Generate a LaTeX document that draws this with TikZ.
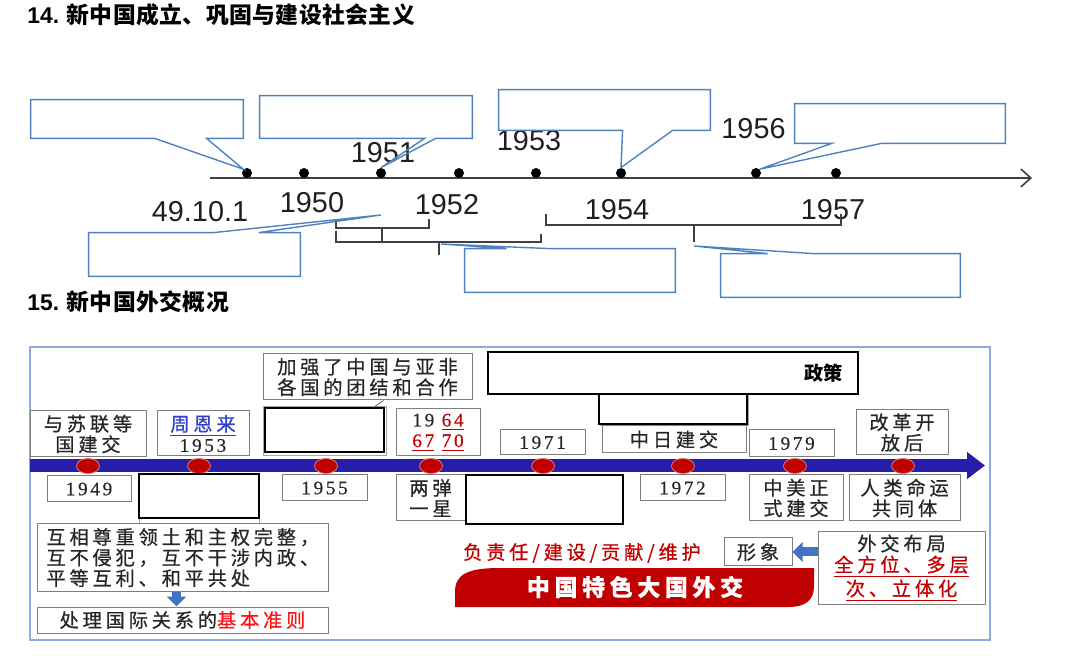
\documentclass[tikz,border=0pt]{standalone}
\usepackage{fontspec}
\setmainfont{Noto Sans CJK SC}
\newfontfamily\cjk[LetterSpace=20,FakeBold=0.6]{Noto Sans CJK SC}
\newfontfamily\cjkt[LetterSpace=2]{Noto Sans CJK SC}
\newfontfamily\arialnum{Liberation Sans}
\newfontfamily\numf[LetterSpace=14,FakeBold=0.5]{Liberation Serif}
\usetikzlibrary{arrows.meta,shapes.geometric,calc}

\definecolor{calloutblue}{RGB}{79,129,189}
\definecolor{axisgray}{RGB}{64,64,64}
\definecolor{frameblue}{RGB}{143,170,220}
\definecolor{barblue}{RGB}{38,30,170}
\definecolor{dotred}{RGB}{192,0,0}
\definecolor{brightred}{RGB}{250,20,20}
\definecolor{linkblue}{RGB}{48,64,200}
\definecolor{arrowblue}{RGB}{68,114,196}
\definecolor{boxgray}{RGB}{127,127,127}

\begin{document}
\begin{tikzpicture}[x=0.5pt, y=-0.5pt,
	title/.style={anchor=west, inner sep=0, font=\cjkt\bfseries\fontsize{11.4pt}{12pt}\selectfont},
	year/.style={inner sep=0, text=black!88, font=\arialnum\fontsize{14.4pt}{15pt}\selectfont},
	tdot/.style={circle, fill=black, inner sep=0, minimum size=5pt},
	cbox/.style={inner sep=0},
	wh/.style 2 args={minimum width=#1, minimum height=#2},
	callout/.style={draw=calloutblue, line width=0.7pt},
	bracket/.style={draw=axisgray, line width=0.7pt},
	axisline/.style={draw=axisgray, line width=0.8pt, -{Straight Barb[length=5pt,width=9pt]}},
	rdot/.style={ellipse, fill=dotred, draw=dotred!55!white, line width=0.4pt, inner sep=0, minimum width=11.5pt, minimum height=7.5pt},
	tbox/.style={draw=boxgray, line width=0.5pt, fill=white, inner sep=0, align=center, text=black!85, font=\cjk\fontsize{9.6pt}{10.3pt}\selectfont},
	blank/.style={draw=black, line width=0.8pt, fill=white, inner sep=0},
	shadowbox/.style={draw=black!35, line width=0.5pt, fill=white, inner sep=0},
	fatarrow/.style={draw=arrowblue, line width=4.5pt, -{Triangle[width=9.5pt,length=5pt]}},
	timebar/.style={draw=barblue, line width=6.5pt, -{Triangle[width=13pt,length=9pt]}},
]
\useasboundingbox (0,0) rectangle (1080,672);

% 14: timeline
\node[title] (t14) at (27,15) {{\arialnum 14.} 新中国成立、巩固与建设社会主义};

\coordinate (axL) at (210,178);
\coordinate (axR) at (1032,178);
\draw[axisline] (axL) -- (axR);

\foreach \n/\x in {1/247,2/304,3/381,4/459,5/536,6/621,7/756,8/836}
	\node[tdot] (d\n) at (\x,173) {};

\node[year] (y49) at (200,211.5) {49.10.1};
\node[year] (y50) at (312,203) {1950};
\node[year] (y51) at (383,153) {1951};
\node[year] (y52) at (447,205) {1952};
\node[year] (y53) at (529,140.5) {1953};
\node[year] (y54) at (617,210) {1954};
\node[year] (y56) at (753.5,128.5) {1956};
\node[year] (y57) at (833,210) {1957};

% brackets
\draw[bracket] (336,219) -- (336,228) -- (429,228) -- (429,219) (382,228) -- (382,241);
\draw[bracket] (336,231) -- (336,242) -- (541,242) -- (541,234) (439,242) -- (439,255);
\draw[bracket] (546,214) -- (546,225) -- (841,225) -- (841,214) (694,225) -- (694,242);
\coordinate (pC) at (381,215);
\coordinate (pD) at (441,244);
\coordinate (pG) at (694,246);

% callouts
\node[cbox, wh={106pt}{19pt}] (cA) at (137,119) {};
\node[cbox, wh={106pt}{21pt}] (cB) at (366,117) {};
\node[cbox, wh={105.5pt}{20pt}] (cE) at (604.5,110) {};
\node[cbox, wh={105pt}{19.5pt}] (cF) at (900,123.5) {};
\node[cbox, wh={105.5pt}{21.5pt}] (cC) at (194.5,254.5) {};
\node[cbox, wh={105pt}{21.5pt}] (cD) at (570,270.5) {};
\node[cbox, wh={119.5pt}{21.5pt}] (cG) at (840.5,275.5) {};

\draw[callout] (cA.south west) -- (cA.north west) -- (cA.north east) -- (cA.south east) -- ([xshift=88pt]cA.south west) -- (d1.north west) -- ([xshift=62pt]cA.south west) -- cycle;
\draw[callout] (cB.south west) -- (cB.north west) -- (cB.north east) -- (cB.south east) -- ([xshift=88pt]cB.south west) -- (d3.north) -- ([xshift=82.5pt]cB.south west) -- cycle;
\draw[callout] (cE.south west) -- (cE.north west) -- (cE.north east) -- (cE.south east) -- ([xshift=87pt]cE.south west) -- (d6.north) -- ([xshift=62pt]cE.south west) -- cycle;
\draw[callout] (cF.south west) -- (cF.north west) -- (cF.north east) -- (cF.south east) -- ([xshift=43.5pt]cF.south west) -- (d7.north east) -- ([xshift=18.5pt]cF.south west) -- cycle;
\draw[callout] (cC.north west) -- ([xshift=62.5pt]cC.north west) -- (pC) -- ([xshift=85pt]cC.north west) -- (cC.north east) -- (cC.south east) -- (cC.south west) -- cycle;
\draw[callout] (cD.north west) -- ([xshift=21pt]cD.north west) -- (pD) -- ([xshift=42.5pt]cD.north west) -- (cD.north east) -- (cD.south east) -- (cD.south west) -- cycle;
\draw[callout] (cG.north west) -- ([xshift=23.5pt]cG.north west) -- (pG) -- ([xshift=46.5pt]cG.north west) -- (cG.north east) -- (cG.south east) -- (cG.south west) -- cycle;

% 15: diplomacy
\node[title] (t15) at (27,302) {{\arialnum 15.} 新中国外交概况};
\draw[frameblue, line width=0.8pt] (30,347) rectangle (990,640);

\coordinate (barL) at (30,465.5);
\coordinate (barR) at (985,465.5);
\draw[timebar] (barL) -- (barR);
\foreach \n/\x in {1/88,2/199,3/326,4/431,5/543,6/683,7/795,8/903}
	\node[rdot] (r\n) at (\x,466) {};

% above the bar
\node[tbox, wh={58pt}{23pt}] (bSoviet) at (88,434) {与苏联等\\国建交};
\node[tbox, wh={46pt}{22.5pt}] (bZhou) at (203,433.5) {\textcolor{linkblue}{\underline{周恩来}}\\{\numf 1953}};
\node[tbox, wh={104.5pt}{23pt}] (bAsia) at (367.5,377) {加强了中国与亚非\\各国的团结和合作};
\node[shadowbox, wh={61.5pt}{24.5pt}] (sh1) at (324.5,431.5) {};
\node[blank, wh={59.5pt}{22pt}] (blank1) at (324.5,430) {};
\draw[boxgray, line width=0.5pt] ([xshift=-44.5pt]bAsia.south east) -- ([xshift=-5.5pt]blank1.north east);
\node[tbox, wh={42pt}{23.5pt}] (b1964) at (438,432.5) {{\numf 19 \textcolor{dotred}{\underline{64}}}\\{\numf\textcolor{dotred}{\underline{67} \underline{70}}}};
\node[blank, wh={185pt}{21pt}, text width=170pt, align=right, font=\cjkt\bfseries\fontsize{9.6pt}{10pt}\selectfont] (bPolicy) at (673,373) {政策};
\node[shadowbox, wh={74pt}{15pt}] (sh2) at (674.5,410.5) {};
\node[blank, wh={74pt}{15pt}] (blank4) at (673,409) {};
\node[tbox, wh={42.5pt}{12.5pt}] (b1971) at (542.5,442.5) {\numf 1971};
\node[tbox, wh={72pt}{13.5pt}] (bJapan) at (674,439.5) {中日建交};
\node[tbox, wh={42.5pt}{13.5pt}] (b1979) at (791.5,443.5) {\numf 1979};
\node[tbox, wh={46pt}{22.5pt}] (bReform) at (902,432.5) {改革开\\放后};

% below the bar
\node[tbox, wh={42pt}{13pt}] (b1949) at (89,489) {\numf 1949};
\node[shadowbox, wh={60pt}{25pt}] (sh3) at (199,499) {};
\node[blank, wh={60pt}{22pt}] (blank2) at (199,496) {};
\node[tbox, wh={42.5pt}{13pt}] (b1955) at (324.5,488) {\numf 1955};
\node[tbox, wh={34.5pt}{23pt}] (bTwo) at (430.5,498) {两弹\\一星};
\node[blank, wh={78.5pt}{24.5pt}] (blank3) at (544.5,499.5) {};
\node[tbox, wh={42.5pt}{13pt}] (b1972) at (682.5,488) {\numf 1972};
\node[tbox, wh={47pt}{23pt}] (bUS) at (796,498) {中美正\\式建交};
\node[tbox, wh={55.5pt}{23pt}] (bFate) at (904.5,498) {人类命运\\共同体};

\node[tbox, wh={145.5pt}{33.5pt}, text width=136pt, align=left] (bPrinciple) at (182.5,557.5) {互相尊重领土和主权完整，\\互不侵犯，互不干涉内政、\\平等互利、和平共处};
\node[tbox, wh={145.5pt}{13pt}] (bRule) at (182.5,620) {处理国际关系的\textcolor{brightred}{基本准则}};
\draw[fatarrow] ([xshift=-3pt]bPrinciple.south) -- ([xshift=-3pt]bRule.north);

\node[inner sep=0, text=dotred, font=\cjk\fontsize{9.6pt}{10pt}\selectfont] (tResp) at (582,553) {负责任/建设/贡献/维护};
\node[tbox, wh={34pt}{14pt}] (bImage) at (758,552) {形象};
\node[tbox, wh={83.5pt}{36pt}, font=\cjk\fontsize{9.6pt}{10.5pt}\selectfont] (bLayout) at (901.5,568) {外交布局\\\textcolor{dotred}{\underline{全方位、多层}}\\\textcolor{dotred}{\underline{次、立体化}}};
\draw[fatarrow] (bLayout.west |- bImage.east) -- (bImage.east);

\fill[dotred] (455,607) -- (455,592) .. controls (455,574) and (468,568) .. (500,568) -- (814,568) -- (814,586) .. controls (814,600) and (806,607) .. (788,607) -- cycle;
\node[inner sep=0, text=white, font=\cjk\bfseries\fontsize{11.5pt}{12pt}\selectfont] (banner) at (635,587) {中国特色大国外交};
\end{tikzpicture}
\end{document}
